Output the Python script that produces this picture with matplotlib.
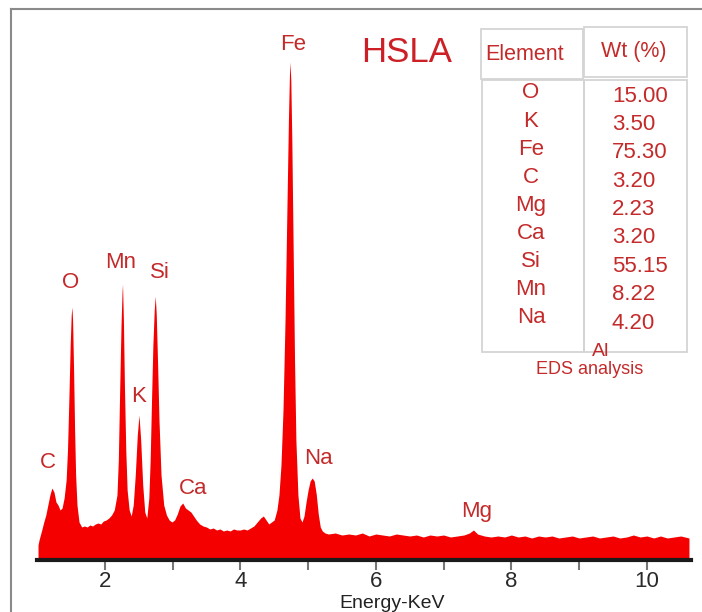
import matplotlib
matplotlib.use("Agg")
import matplotlib.pyplot as plt
from matplotlib.patches import Rectangle
from matplotlib.lines import Line2D

# EDS spectrum (energy in keV, counts in arbitrary units)
energy = [1.015, 1.03, 1.07, 1.10, 1.13, 1.16, 1.19, 1.22, 1.25, 1.28, 1.31, 1.34, 1.37, 1.40,
          1.43, 1.45, 1.47, 1.49, 1.505, 1.515, 1.525, 1.54, 1.555, 1.57, 1.59, 1.62, 1.66, 1.70,
          1.74, 1.78, 1.82, 1.86, 1.90, 1.94, 1.98, 2.02, 2.06, 2.10, 2.14, 2.18, 2.20, 2.22,
          2.24, 2.255, 2.262, 2.275, 2.29, 2.31, 2.33, 2.36, 2.39, 2.42, 2.45, 2.48, 2.505, 2.53,
          2.56, 2.59, 2.62, 2.65, 2.67, 2.69, 2.71, 2.73, 2.745, 2.76, 2.78, 2.80, 2.83, 2.87,
          2.91, 2.95, 2.99, 3.03, 3.07, 3.11, 3.15, 3.19, 3.23, 3.27, 3.31, 3.35, 3.40, 3.45,
          3.50, 3.55, 3.60, 3.65, 3.70, 3.75, 3.80, 3.85, 3.90, 3.95, 4.00, 4.05, 4.10, 4.15,
          4.20, 4.25, 4.30, 4.34, 4.38, 4.42, 4.46, 4.50, 4.54, 4.57, 4.60, 4.63, 4.66, 4.69,
          4.71, 4.725, 4.733, 4.745, 4.76, 4.78, 4.80, 4.82, 4.85, 4.88, 4.91, 4.94, 4.97, 5.00,
          5.03, 5.06, 5.09, 5.12, 5.15, 5.18, 5.21, 5.25,
          5.3, 5.4, 5.5, 5.6, 5.7, 5.8, 5.9, 6.0, 6.1, 6.2, 6.3, 6.4, 6.5, 6.6, 6.7, 6.8, 6.9,
          7.0, 7.1, 7.2, 7.3, 7.38, 7.44, 7.5, 7.6, 7.7, 7.8, 7.9, 8.0, 8.1, 8.2, 8.3, 8.4, 8.5,
          8.6, 8.7, 8.8, 8.9, 9.0, 9.1, 9.2, 9.3, 9.4, 9.5, 9.6, 9.7, 9.8, 9.9, 10.0, 10.1,
          10.2, 10.3, 10.4, 10.5, 10.62]
counts = [15, 20, 30, 38, 45, 55, 65, 72, 68, 58, 55, 50, 52, 62,
          80, 110, 160, 215, 245, 253, 240, 190, 130, 85, 55, 38, 33, 34,
          33, 35, 34, 36, 37, 36, 39, 40, 42, 45, 50, 65, 100, 170,
          235, 268, 276, 240, 175, 110, 70, 50, 44, 55, 85, 125, 145, 120,
          75, 48, 42, 62, 100, 160, 215, 250, 264, 245, 195, 140, 85, 55,
          45, 40, 38, 40, 46, 54, 57, 52, 50, 48, 44, 40, 36, 34,
          33, 31, 32, 30, 31, 29, 30, 29, 31, 30, 30, 31, 30, 32,
          34, 38, 42, 44, 40, 36, 38, 40, 50, 65, 95, 150, 240, 360,
          440, 485, 498, 480, 420, 310, 200, 120, 65, 42, 38, 44, 58, 70,
          79, 82, 79, 66, 46, 33, 29, 27,
          26, 27, 25, 26, 25, 27, 24, 26, 25, 24, 26, 25, 24, 25, 23, 25, 24,
          25, 23, 24, 25, 27, 30, 26, 24, 23, 24, 23, 25, 23, 24, 22, 24, 23,
          24, 22, 23, 24, 22, 23, 24, 22, 23, 24, 22, 23, 25, 23, 24, 22,
          24, 22, 23, 24, 22]

# peak labels: element, energy, label height
peak_names = ["Fe", "O", "Mn", "Si", "K", "C", "Na", "Ca", "Mg"]
peak_energy = [4.78, 1.50, 2.24, 2.81, 2.50, 1.16, 5.15, 3.31, 7.49]
peak_label_y = [515, 277, 298, 288, 163, 98, 102, 71, 48]

# EDS table
table_elements = ["O", "K", "Fe", "C", "Mg", "Ca", "Si", "Mn", "Na"]
table_wt = ["15.00", "3.50", "75.30", "3.20", "2.23", "3.20", "55.15", "8.22", "4.20"]

xticks = [2, 4, 6, 8, 10]
xminor = [3, 5, 7, 9]

W, H = 702, 612
red = "#f40000"
txt_red = "#c42a2a"
plt.rcParams["font.family"] = ["Liberation Sans", "DejaVu Sans"]

fig = plt.figure(figsize=(W / 100, H / 100), dpi=100)
fig.patch.set_facecolor("white")


def fx(x):
    return x / W


def fy(y):
    return 1 - y / H


ax = fig.add_axes([fx(37), fy(560), 654 / W, 535 / H])
ax.fill_between(energy, 0, counts, color=red, lw=0)
ax.set_xlim(1.0, 10.65)
ax.set_ylim(0, 535)
for s in ["left", "top", "right"]:
    ax.spines[s].set_visible(False)
ax.spines["bottom"].set_linewidth(3)
ax.spines["bottom"].set_color("#1a1a1a")
ax.set_yticks([])
ax.set_xticks(xticks)
ax.set_xticklabels([str(t) for t in xticks])
ax.set_xticks(xminor, minor=True)
ax.tick_params(axis="x", which="both", direction="out", length=7, width=1.5,
               color="#777777", labelsize=16, labelcolor="#2a2a2a", pad=1)

for name, e, y in zip(peak_names, peak_energy, peak_label_y):
    ax.text(e, y, name, color=txt_red, fontsize=16, ha="center", va="center")

fig.text(fx(392), fy(603), "Energy-KeV", fontsize=14, color="#222222", ha="center", va="center")
fig.text(fx(407), fy(52), "HSLA", fontsize=25, color="#cc1f26", ha="center", va="center")

# table boxes
box_col = "#d4d4d4"
for (x0, y0, x1, y1) in [(481, 29, 583, 79), (584, 27, 687, 77), (482, 80, 584, 352), (584, 80, 687, 352)]:
    fig.add_artist(Rectangle((fx(x0), fy(y1)), (x1 - x0) / W, (y1 - y0) / H,
                             transform=fig.transFigure, fill=False, ec=box_col, lw=1.3))

fig.text(fx(525), fy(54), "Element", fontsize=15.5, color=txt_red, ha="center", va="center")
fig.text(fx(634), fy(51), "Wt (%)", fontsize=15.5, color=txt_red, ha="center", va="center")

for i, (el, wt) in enumerate(zip(table_elements, table_wt)):
    fig.text(fx(531), fy(93 + 28.1 * i), el, fontsize=16, color=txt_red, ha="center", va="center")
    fig.text(fx(612), fy(96 + 28.4 * i), wt, fontsize=16, color=txt_red, ha="left", va="center")

fig.text(fx(601), fy(351), "Al", fontsize=14, color=txt_red, ha="center", va="center")
fig.text(fx(590), fy(370), "EDS analysis", fontsize=13, color=txt_red, ha="center", va="center")

# outer frame
fig.add_artist(Line2D([fx(11), 1], [fy(9), fy(9)], transform=fig.transFigure, color="#8a8a8a", lw=1.5))
fig.add_artist(Line2D([fx(11), fx(11)], [0, fy(9)], transform=fig.transFigure, color="#8a8a8a", lw=1.5))

fig.savefig("out.png", dpi=100)
